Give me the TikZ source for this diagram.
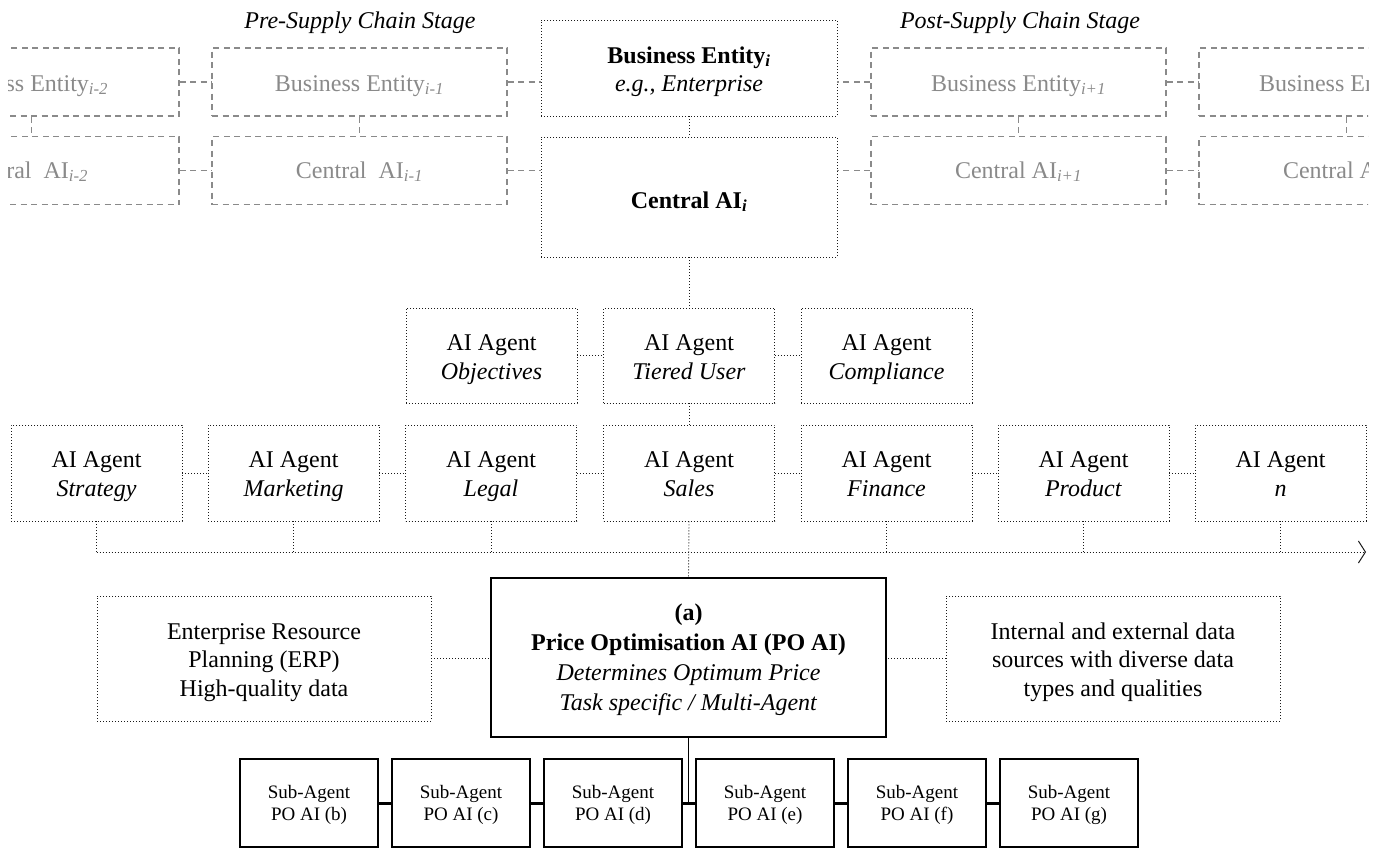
\documentclass[tikz,border=0pt]{standalone}
\usepackage{fontspec}
\setmainfont{Liberation Serif}
\usetikzlibrary{arrows.meta}
\definecolor{ghost}{HTML}{8A8A8A}
\definecolor{ink}{HTML}{1A1A1A}
\newcommand{\myH}[1]{\rule{0pt}{#1pt}}
\newcommand{\myD}[1]{\rule[-#1pt]{0pt}{#1pt}}
\begin{document}
\begin{tikzpicture}[x=1pt,y=-1pt,
  base/.style={font=\fontsize{24}{29}\selectfont, align=center, inner sep=0pt, text=black},
  dotline/.style={draw=ink, line width=0.9pt, dash pattern=on 0.9pt off 2.1pt},
  dotbox/.style={base, dotline},
  agentbox/.style={dotbox, minimum width=171pt, minimum height=96pt},
  ghostline/.style={draw=ghost, line width=1.1pt, dash pattern=on 6pt off 4.5pt},
  ghostbox/.style={base, ghostline, text=ghost, minimum width=295pt, minimum height=68pt},
  thickbox/.style={base, draw=black, line width=2.2pt},
  subbox/.style={thickbox, font=\fontsize{19}{22}\selectfont, minimum width=138pt, minimum height=88pt},
  title/.style={base, anchor=base, font=\fontsize{24}{29}\selectfont\itshape}
]
\useasboundingbox (0,0) rectangle (1383,849);

% titles
\node[title] (pre) at (360,28) {Pre-Supply Chain Stage};
\node[title] (post) at (1020,28) {Post-Supply Chain Stage};

% central entity
\node[dotbox, minimum width=296pt, minimum height=96pt, font=\fontsize{24}{28}\selectfont] (bei) at (689,68)
  {\myH{24}\textbf{Business Entity\textsubscript{\textit{i}}}\\\textit{e.g., Enterprise}\myD{6}};
\node[dotbox, minimum width=296pt, minimum height=120pt] (cai) at (689,197)
  {\myH{26}\textbf{Central AI\textsubscript{\textit{i}}}\myD{4}};
\draw[dotline] (bei.south) -- (cai.north);

% neighbouring entities (clipped at picture edges)
\begin{scope}
\clip (8,0) rectangle (1368,849);
\node[ghostbox] (bem2) at (31.5,82) {\myH{24}Business Entity\textsubscript{\textit{i-2}}\hspace{16pt}\myD{6}};
\node[ghostbox] (cam2) at (31.5,170.5) {\myH{21}Central\ \ AI\textsubscript{\textit{i-2}}\hspace{14pt}\myD{6}};
\node[ghostbox] (bem1) at (359.5,82) {\myH{24}Business Entity\textsubscript{\textit{i-1}}\myD{6}};
\node[ghostbox] (cam1) at (359.5,170.5) {\myH{21}Central\ \ AI\textsubscript{\textit{i-1}}\myD{6}};
\node[ghostbox] (bep1) at (1018.5,82) {\myH{24}Business Entity\textsubscript{\textit{i+1}}\myD{6}};
\node[ghostbox] (cap1) at (1018.5,170.5) {\myH{21}Central AI\textsubscript{\textit{i+1}}\myD{6}};
\node[ghostbox] (bep2) at (1346.5,82) {\myH{24}Business Entity\textsubscript{\textit{i+2}}\myD{6}};
\node[ghostbox] (cap2) at (1346.5,170.5) {\myH{21}Central AI\textsubscript{\textit{i+2}}\myD{6}};
\draw[ghostline] (bem2.south) -- (cam2.north);
\draw[ghostline] (bem1.south) -- (cam1.north);
\draw[ghostline] (bep1.south) -- (cap1.north);
\draw[ghostline] (bep2.south) -- (cap2.north);
\draw[ghostline] (bem2.east) -- (bem1.west);
\draw[ghostline] (cam2.east) -- (cam1.west);
\draw[ghostline] (bep1.east) -- (bep2.west);
\draw[ghostline] (cap1.east) -- (cap2.west);
\draw[ghostline] (bem1.east) -- (bem1.east -| bei.west);
\draw[ghostline] (cam1.east) -- (cam1.east -| cai.west);
\draw[ghostline] (bep1.west) -- (bep1.west -| bei.east);
\draw[ghostline] (cap1.west) -- (cap1.west -| cai.east);
\end{scope}

% agent row 1
\node[agentbox, minimum height=95pt] (obj) at (491.5,355.5) {\myH{24}AI Agent\\\textit{Objectives}\myD{6}};
\node[agentbox, minimum height=95pt] (tier) at (689,355.5) {\myH{24}AI Agent\\\textit{Tiered User}\myD{6}};
\node[agentbox, minimum height=95pt] (comp) at (886.5,355.5) {\myH{24}AI Agent\\\textit{Compliance}\myD{6}};
\draw[dotline] (cai.south) -- (tier.north);
\draw[dotline] (obj.east) -- (tier.west);
\draw[dotline] (tier.east) -- (comp.west);

% agent row 2
\node[agentbox] (strat) at (96.5,473) {\myH{24}AI Agent\\\textit{Strategy}\myD{6}};
\node[agentbox] (mark) at (293.5,473) {\myH{24}AI Agent\\\textit{Marketing}\myD{6}};
\node[agentbox] (legal) at (491,473) {\myH{24}AI Agent\\\textit{Legal}\myD{6}};
\node[agentbox] (sales) at (689,473) {\myH{24}AI Agent\\\textit{Sales}\myD{6}};
\node[agentbox] (fin) at (886.5,473) {\myH{24}AI Agent\\\textit{Finance}\myD{6}};
\node[agentbox] (prod) at (1083.5,473) {\myH{24}AI Agent\\\textit{Product}\myD{6}};
\node[agentbox] (agn) at (1280.5,473) {\myH{24}AI Agent\\\textit{n}\myD{6}};
\draw[dotline] (tier.south) -- (sales.north);
\draw[dotline] (strat.east) -- (mark.west);
\draw[dotline] (mark.east) -- (legal.west);
\draw[dotline] (legal.east) -- (sales.west);
\draw[dotline] (sales.east) -- (fin.west);
\draw[dotline] (fin.east) -- (prod.west);
\draw[dotline] (prod.east) -- (agn.west);

% bus
\coordinate (busL) at (96.5,552);
\coordinate (busR) at (1366,552);
\draw[dotline, -{Straight Barb[length=7pt,width=22pt,line width=1pt]}] (busL) -- (busR);
\foreach \n in {strat,mark,legal,fin,prod,agn}{
  \draw[dotline] (\n.south) -- (\n.south |- busL);
}

% PO AI
\node[thickbox, minimum width=395pt, minimum height=159pt, font=\fontsize{24}{30}\selectfont] (po) at (688.5,657.5)
  {\myH{21}\textbf{(a)}\\\textbf{Price Optimisation AI (PO AI)}\\\textit{Determines Optimum Price}\\\textit{Task specific / Multi-Agent}\myD{6}};
\draw[dotline] (sales.south) -- (po.north);
\node[dotbox, minimum width=334pt, minimum height=125pt, font=\fontsize{24}{28.5}\selectfont] (erp) at (264,658.5)
  {\myH{24}Enterprise Resource\\Planning (ERP)\\High-quality data\myD{6}};
\node[dotbox, minimum width=334pt, minimum height=125pt, font=\fontsize{24}{28.5}\selectfont] (data) at (1113,658.5)
  {\myH{24}Internal and external data\\sources with diverse data\\types and qualities\myD{6}};
\draw[dotline] (erp.east) -- (erp.east -| po.west);
\draw[dotline] (data.west) -- (data.west -| po.east);

% sub-agents
\node[subbox] (sb) at (309,803) {\myH{18}Sub-Agent\\PO AI (b)\myD{6}};
\node[subbox] (sc) at (461,803) {\myH{18}Sub-Agent\\PO AI (c)\myD{6}};
\node[subbox] (sd) at (613,803) {\myH{18}Sub-Agent\\PO AI (d)\myD{6}};
\node[subbox] (se) at (765,803) {\myH{18}Sub-Agent\\PO AI (e)\myD{6}};
\node[subbox] (sf) at (917,803) {\myH{18}Sub-Agent\\PO AI (f)\myD{6}};
\node[subbox] (sg) at (1069,803) {\myH{18}Sub-Agent\\PO AI (g)\myD{6}};
\draw[line width=1.8pt] (po.south) -- (po.south |- sd.east);
\foreach \a/\b in {sb/sc,sc/sd,sd/se,se/sf,sf/sg}{
  \draw[line width=3pt] (\a.east) -- (\b.west);
}
\end{tikzpicture}
\end{document}
